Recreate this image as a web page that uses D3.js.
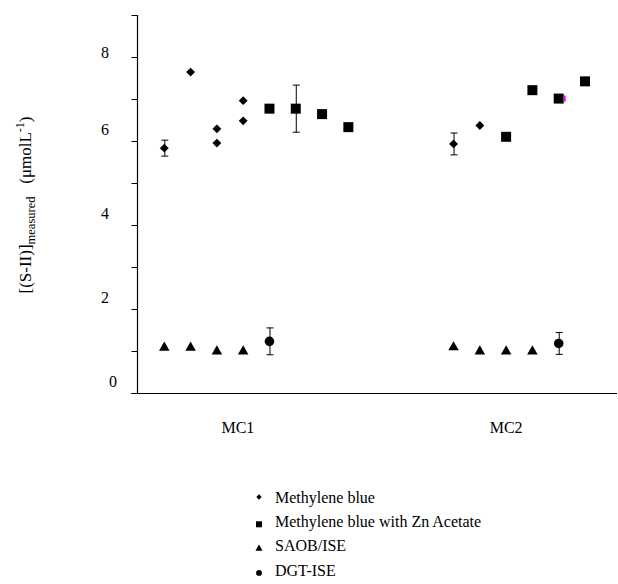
<!DOCTYPE html>
<html>
<head>
<meta charset="utf-8">
<script src="https://cdn.jsdelivr.net/npm/d3@7"></script>
<style>
  body { margin: 0; background: #fff; }
  text { fill: #000; }
</style>
</head>
<body>
<div class="chart"></div>
<script>
// Data: [position index, value, error]
var methyleneBlue = [
  [0, 5.83, 0.19], [1, 7.64, 0], [2, 6.29, 0], [2, 5.95, 0],
  [3, 6.96, 0], [3, 6.48, 0], [11, 5.93, 0.26], [12, 6.37, 0]
];
var methyleneBlueZn = [
  [4, 6.77, 0.05], [5, 6.77, 0.56], [6, 6.64, 0], [7, 6.33, 0],
  [13, 6.10, 0], [14, 7.21, 0.06], [15, 7.01, 0], [16, 7.42, 0]
];
var saobIse = [
  [0, 1.08, 0], [1, 1.08, 0], [2, 0.99, 0], [3, 0.99, 0],
  [11, 1.09, 0], [12, 0.99, 0], [13, 0.99, 0], [14, 0.99, 0]
];
var dgtIse = [[4, 1.23, 0.32], [15, 1.18, 0.26]];

var categories = ["MC1", "MC2"];
var categoryPos = [2.8, 13];
var yTicks = [0, 1, 2, 3, 4, 5, 6, 7, 8, 9];
var yLabels = [0, 2, 4, 6, 8];
var legendNames = ["Methylene blue", "Methylene blue with Zn Acetate", "SAOB/ISE", "DGT-ISE"];

var svgWidth = 618, svgHeight = 584;
var svg = d3.select(".chart").append("svg")
  .attr("width", svgWidth)
  .attr("height", svgHeight)
  .attr("font-family", "'Liberation Serif', 'Times New Roman', serif");

var x = d3.scaleLinear().domain([0, 16]).range([164.3, 585]);
var y = d3.scaleLinear().domain([0, 9]).range([393, 15]);

// y axis line + ticks
svg.append("line")
  .attr("x1", 137.5).attr("x2", 137.5)
  .attr("y1", y(9)).attr("y2", y(0))
  .attr("stroke", "#000").attr("stroke-width", 1.2);
svg.selectAll(".ytick").data(yTicks).enter().append("line")
  .attr("x1", 131.5).attr("x2", 137.5)
  .attr("y1", d => y(d) + 0.5).attr("y2", d => y(d) + 0.5)
  .attr("stroke", "#000");
svg.selectAll(".ylab").data(yLabels).enter().append("text")
  .attr("x", d => d === 0 ? 113 : 105)
  .attr("y", d => y(d) + (d === 8 ? -5 : -12))
  .attr("dy", "0.35em")
  .attr("text-anchor", "middle")
  .attr("font-size", 16)
  .text(d => d);

// x axis line
svg.append("line")
  .attr("x1", 131.5).attr("x2", 617)
  .attr("y1", y(0) + 0.5).attr("y2", y(0) + 0.5)
  .attr("stroke", "#000").attr("stroke-width", 1.2);

svg.selectAll(".cat").data(categories).enter().append("text")
  .attr("x", (d, i) => x(categoryPos[i]))
  .attr("y", 433)
  .attr("text-anchor", "middle")
  .attr("font-size", 16)
  .text(d => d);

// y title
var yTitle = svg.append("text")
  .attr("transform", "translate(31, 205) rotate(-90)")
  .attr("text-anchor", "middle")
  .attr("font-size", 17);
yTitle.append("tspan").text("[(S-II)]");
yTitle.append("tspan").attr("font-size", 12.5).attr("dy", 4).text("measured");
yTitle.append("tspan").attr("dy", -4).text("\u00a0\u00a0\u00a0(\u03bcmolL");
yTitle.append("tspan").attr("font-size", 12).attr("dy", -7).text("-1");
yTitle.append("tspan").attr("dy", 7).text(")");

var series = [
  {data: methyleneBlue, sym: d3.symbolDiamond2, size: 50},
  {data: methyleneBlueZn, sym: d3.symbolSquare, size: 100},
  {data: saobIse, sym: d3.symbolTriangle, size: 48},
  {data: dgtIse, sym: d3.symbolCircle, size: 72}
];

series.forEach(s => {
  var g = svg.append("g");
  var withErr = s.data.filter(d => d[2] > 0);
  withErr.forEach(d => {
    var cx = x(d[0]) + 0.5;
    g.append("line").attr("x1", cx).attr("x2", cx)
      .attr("y1", y(d[1] + d[2])).attr("y2", y(d[1] - d[2]))
      .attr("stroke", "#000");
    [d[1] + d[2], d[1] - d[2]].forEach(v => {
      g.append("line").attr("x1", cx - 3.5).attr("x2", cx + 3.5)
        .attr("y1", y(v)).attr("y2", y(v))
        .attr("stroke", "#000");
    });
  });
  g.selectAll("path").data(s.data).enter().append("path")
    .attr("d", d3.symbol().type(s.sym).size(s.size))
    .attr("transform", d => `translate(${x(d[0])}, ${y(d[1])})`)
    .attr("fill", "#000");
});

// small magenta mark next to one MC2 square
var pink = methyleneBlueZn[6];
svg.append("rect")
  .attr("x", x(pink[0]) + 5).attr("y", y(pink[1]) - 3)
  .attr("width", 2).attr("height", 6)
  .attr("fill", "#ff00ff");

// legend
var legendSyms = [
  {sym: d3.symbolDiamond2, size: 18},
  {sym: d3.symbolSquare, size: 36},
  {sym: d3.symbolTriangle, size: 22},
  {sym: d3.symbolCircle, size: 26}
];
var legend = svg.selectAll(".leg").data(legendNames).enter().append("g")
  .attr("transform", (d, i) => `translate(259, ${497 + i * 24.3})`);
legend.append("path")
  .attr("d", (d, i) => d3.symbol().type(legendSyms[i].sym).size(legendSyms[i].size)())
  .attr("transform", (d, i) => `translate(0, ${i === 0 ? 0 : 3})`)
  .attr("fill", "#000");
legend.append("text")
  .attr("x", 16).attr("dy", "0.35em")
  .attr("font-size", 16)
  .text(d => d);
</script>
</body>
</html>
